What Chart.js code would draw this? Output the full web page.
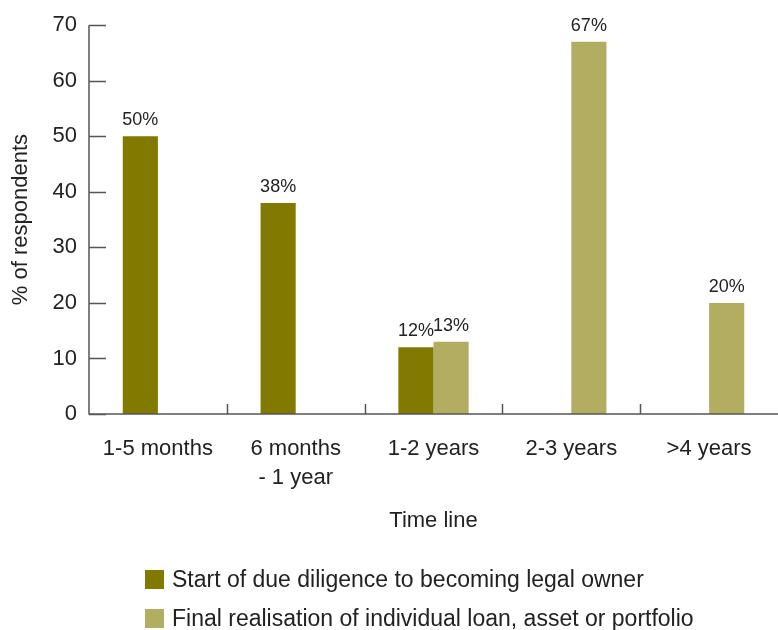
<!DOCTYPE html>
<html>
<head>
<meta charset="utf-8">
<script src="https://cdn.jsdelivr.net/npm/chart.js@4"></script>
<style>
  html, body { margin: 0; padding: 0; background: #fff; }
  #wrap { width: 778px; height: 630px; }
</style>
</head>
<body>
<div id="wrap"><canvas id="timeChart"></canvas></div>
<script>
const categories = ['1-5 months', ['6 months', '- 1 year'], '1-2 years', '2-3 years', '>4 years'];
const startValues = [50, 38, 12, null, null];
const finalValues = [null, null, 13, 67, 20];
const yTicks = [0, 10, 20, 30, 40, 50, 60, 70];
const seriesNames = ['Start of due diligence to becoming legal owner', 'Final realisation of individual loan, asset or portfolio'];
const seriesColors = ['#827a00', '#b3ad62'];

const FONT = '"Liberation Sans", Arial, Helvetica, sans-serif';
const AXIS = '#555';

// value labels above each bar
const valueLabels = {
    id: 'valueLabels',
    afterDatasetsDraw(chart) {
        const c = chart.ctx;
        c.save();
        c.font = '18px ' + FONT;
        c.fillStyle = '#222';
        c.textAlign = 'center';
        c.textBaseline = 'alphabetic';
        chart.data.datasets.forEach((ds, i) => {
            chart.getDatasetMeta(i).data.forEach((bar, j) => {
                if (ds.data[j] == null) return;
                c.fillText(ds.data[j] + '%', bar.x, bar.y - 11);
            });
        });
        c.restore();
    }
};

// axis lines and inward tick marks
const axisMarks = {
    id: 'axisMarks',
    afterDraw(chart) {
        const c = chart.ctx;
        const area = chart.chartArea;
        const x = chart.scales.x, y = chart.scales.y;
        c.save();
        c.strokeStyle = AXIS;
        c.lineWidth = 1.5;
        c.beginPath();
        c.moveTo(area.left, area.top);
        c.lineTo(area.left, area.bottom);
        c.lineTo(area.right, area.bottom);
        yTicks.forEach(v => {
            const py = Math.round(y.getPixelForValue(v)) + 0.5;
            c.moveTo(area.left, py);
            c.lineTo(area.left + 17, py);
        });
        for (let i = 1; i < categories.length; i++) {
            const px = Math.round((x.getPixelForValue(i - 1) + x.getPixelForValue(i)) / 2) + 0.5;
            c.moveTo(px, area.bottom);
            c.lineTo(px, area.bottom - 10);
        }
        c.stroke();
        c.restore();
    }
};

// two-row legend, left aligned
const legendRows = {
    id: 'legendRows',
    afterDraw(chart) {
        const c = chart.ctx;
        c.save();
        c.font = '23px ' + FONT;
        c.textBaseline = 'middle';
        const rows = [579.5, 618.5];
        seriesNames.forEach((name, i) => {
            c.fillStyle = seriesColors[i];
            c.fillRect(145, rows[i] - 9.5, 19, 19);
            c.fillStyle = '#222';
            c.fillText(name, 172, rows[i] + 1);
        });
        c.restore();
    }
};

const ctx = document.getElementById('timeChart').getContext('2d');
const timeChart = new Chart(ctx, {
    type: 'bar',
    data: {
        labels: categories,
        datasets: [
            { label: seriesNames[0], data: startValues, backgroundColor: seriesColors[0] },
            { label: seriesNames[1], data: finalValues, backgroundColor: seriesColors[1] }
        ]
    },
    options: {
        responsive: true,
        maintainAspectRatio: false,
        animation: false,
        categoryPercentage: 0.51,
        barPercentage: 1.0,
        layout: { padding: { top: 25, right: 0, left: 0, bottom: 0 } },
        plugins: {
            legend: { display: false },
            tooltip: { enabled: false }
        },
        scales: {
            x: {
                grid: { display: false, drawTicks: false },
                border: { display: false },
                ticks: { color: '#222', font: { family: FONT, size: 22, lineHeight: 1.3 }, padding: 21, maxRotation: 0, autoSkip: false },
                title: { display: true, text: 'Time line', color: '#222', font: { family: FONT, size: 22 }, padding: { top: 0, bottom: 96 } },
                afterFit(scale) { scale.height = 216; }
            },
            y: {
                min: 0,
                max: 70,
                grid: { display: false, drawTicks: false },
                border: { display: false },
                ticks: { stepSize: 10, color: '#222', font: { family: FONT, size: 22 }, padding: 12 },
                title: { display: true, text: '% of respondents', color: '#222', font: { family: FONT, size: 22 }, padding: { top: 8, bottom: 0 } },
                afterFit(scale) { scale.width = 89; }
            }
        }
    },
    plugins: [valueLabels, axisMarks, legendRows]
});
</script>
</body>
</html>
